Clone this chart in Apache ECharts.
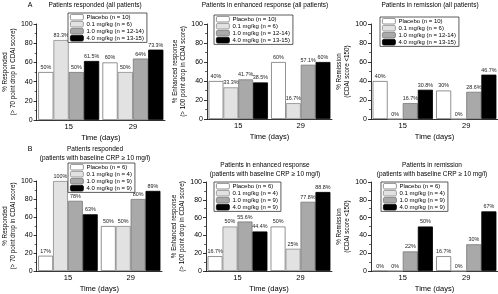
<!DOCTYPE html>
<html>
<head>
<meta charset="utf-8">
<script src="https://cdn.jsdelivr.net/npm/echarts@6/dist/echarts.min.js"></script>
<style>
  html, body { margin: 0; padding: 0; background: #fff; }
  #chart { width: 498px; height: 294px; }
</style>
</head>
<body>
<div id="chart"></div>
<script>
const days = ['15', '29'];
const dosesA = ['Placebo (n = 10)', '0.1 mg/kg (n = 6)', '1.0 mg/kg (n = 12-14)', '4.0 mg/kg (n = 13-15)'];
const dosesB = ['Placebo (n = 6)', '0.1 mg/kg (n = 4)', '1.0 mg/kg (n = 9)', '4.0 mg/kg (n = 9)'];

// one row per dose: [day 15, day 29]
const respondedAll = [[50, 60], [83.3, 50], [50, 64], [61.5, 73.3]];
const enhancedAll = [[40, 60], [33.3, 16.7], [41.7, 57.1], [38.5, 60]];
const remissionAll = [[40, 30], [0, 0], [16.7, 28.6], [30.8, 46.7]];
const respondedCrp = [[17, 50], [100, 50], [78, 80], [63, 89]];
const enhancedCrp = [[16.7, 50], [50, 25], [55.6, 77.8], [44.4, 88.8]];
const remissionCrp = [[0, 16.7], [0, 0], [22, 30], [50, 67]];

const fillColors = ['#ffffff', '#e2e2e2', '#a9a9a9', '#000000'];
const edgeColors = ['#777777', '#8a8a8a', '#777777', '#000000'];
const font = 'Liberation Sans';

const panels = [
  { data: respondedAll, names: dosesA, grid: { left: 35, top: 24, width: 130, height: 96 },
    title: ['Patients responded (all patients)'], tx: 95, ty: 5,
    yName: '% Responded\n(> 70 point drop in CDAI score)', nameGap: 16,
    legend: { left: 68, top: 13 } },
  { data: enhancedAll, names: dosesA, grid: { left: 207, top: 24, width: 125, height: 95 },
    title: ['Patients in enhanced response (all patients)'], tx: 265, ty: 5,
    yName: '% Enhanced response\n(> 100 point drop in CDAI score)', nameGap: 18,
    legend: { left: 214, top: 15 } },
  { data: remissionAll, names: dosesA, grid: { left: 371, top: 24, width: 127, height: 95 },
    title: ['Patients in remission (all patients)'], tx: 430, ty: 5,
    yName: '% Remission\n(CDAI score <150)', nameGap: 16,
    legend: { left: 380, top: 17 } },
  { data: respondedCrp, names: dosesB, grid: { left: 35, top: 181, width: 127, height: 96 },
    title: ['Patients responded', '(patients with baseline CRP \u2265 10 mg/l)'], tx: 95, ty: 149,
    yName: '% Responded\n(> 70 point drop in CDAI score)', nameGap: 16,
    legend: { left: 68, top: 163 } },
  { data: enhancedCrp, names: dosesB, grid: { left: 206, top: 182, width: 126, height: 95 },
    title: ['Patients in enhanced response', '(patients with baseline CRP \u2265 10 mg/l)'], tx: 265, ty: 165,
    yName: '% Enhanced response\n(> 100 point drop in CDAI score)', nameGap: 18,
    legend: { left: 214, top: 182 } },
  { data: remissionCrp, names: dosesB, grid: { left: 371, top: 182, width: 127, height: 95 },
    title: ['Patients in remission', '(patients with baseline CRP \u2265 10 mg/l)'], tx: 432, ty: 165,
    yName: '% Remission\n(CDAI score <150)', nameGap: 16,
    legend: { left: 381, top: 182 } }
];

const chart = echarts.init(document.getElementById('chart'), null, { renderer: 'canvas' });

const grid = [], xAxis = [], yAxis = [], series = [], legend = [], graphic = [];

panels.forEach((p, i) => {
  grid.push(p.grid);
  xAxis.push({
    type: 'category', gridIndex: i, data: days,
    axisLine: { lineStyle: { color: '#000', width: 0.8 } },
    axisTick: { show: false },
    axisLabel: { color: '#000', fontSize: 7.5, fontFamily: font, margin: 3 },
    name: 'Time (days)', nameLocation: 'middle', nameGap: 14,
    nameTextStyle: { color: '#000', fontSize: 7.5, fontFamily: font }
  });
  yAxis.push({
    type: 'value', gridIndex: i, min: 0, max: 100, interval: 20,
    axisLine: { show: true, lineStyle: { color: '#000', width: 0.8 } },
    axisTick: { show: true, length: 3, lineStyle: { color: '#000', width: 0.8 } },
    minorTick: { show: true, splitNumber: 2, length: 2, lineStyle: { color: '#000', width: 0.6 } },
    splitLine: { show: false },
    axisLabel: { color: '#000', fontSize: 7, fontFamily: font, margin: 4 },
    name: p.yName, nameLocation: 'middle', nameRotate: 90, nameGap: p.nameGap,
    nameTextStyle: { color: '#000', fontSize: 6.3, fontFamily: font, lineHeight: 8 }
  });
  p.data.forEach((vals, k) => {
    series.push({
      type: 'bar', name: p.names[k], xAxisIndex: i, yAxisIndex: i, data: vals,
      barGap: '0%', barCategoryGap: '5%',
      itemStyle: { color: fillColors[k], borderColor: edgeColors[k], borderWidth: 0.8 },
      label: { show: true, position: 'top', distance: 2, fontSize: 5.4, fontFamily: font, color: '#222',
        formatter: (d) => d.value + '%' }
    });
  });
  legend.push({
    orient: 'vertical', left: p.legend.left, top: p.legend.top, data: p.names,
    padding: [1, 3, 1, 2], itemGap: 0.6, itemWidth: 13, itemHeight: 5.6,
    borderColor: '#333', borderWidth: 0.8, backgroundColor: '#fff',
    itemStyle: { borderWidth: 0.8 },
    textStyle: { fontSize: 6, lineHeight: 6, fontFamily: font, color: '#000', padding: [0, 0, 0, -2] },
    selectedMode: false
  });
  p.title.forEach((t, j) => {
    graphic.push({
      type: 'text', x: p.tx, y: p.ty + j * 9,
      style: { text: t, fill: '#000', font: '6.5px ' + font, textAlign: 'center', textVerticalAlign: 'middle' }
    });
  });
});

graphic.push({ type: 'text', x: 30, y: 5, style: { text: 'A', fill: '#000', font: '7px ' + font, textAlign: 'center', textVerticalAlign: 'middle' } });
graphic.push({ type: 'text', x: 30, y: 149, style: { text: 'B', fill: '#000', font: '7px ' + font, textAlign: 'center', textVerticalAlign: 'middle' } });

chart.setOption({
  animation: false,
  backgroundColor: '#fff',
  grid, xAxis, yAxis, series, legend, graphic
});
</script>
</body>
</html>
